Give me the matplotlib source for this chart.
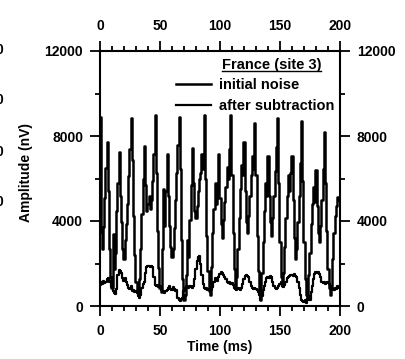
import numpy as np
import matplotlib.pyplot as plt
from matplotlib.lines import Line2D

plt.rcParams['font.family'] = ['Liberation Sans', 'DejaVu Sans']
plt.rcParams['font.weight'] = 'bold'
plt.rcParams['axes.labelweight'] = 'bold'

# signal sampled every 1 ms
time_ms = np.arange(0, 201)

initial_noise = [
    8900, 3500, 2700, 3700, 5100, 6500, 7700, 5400, 2700, 1350,
    850, 3400, 1750, 2500, 4450, 5800, 7250, 5200, 3950, 2700,
    2200, 3100, 3850, 4800, 6100, 7400, 8850, 6850, 4250, 2400,
    1150, 650, 550, 1250, 2700, 4350, 6000, 7550, 5700, 4450,
    4800, 5200, 4550, 5000, 5900, 7150, 9000, 6250, 3550, 1800,
    850, 650, 2700, 5500, 3750, 5400, 7150, 5200, 3750, 2800,
    2300, 2700, 3650, 5000, 6250, 7600, 8900, 6450, 3100, 1250,
    300, 500, 1450, 3100, 2300, 4050, 5700, 7450, 5800, 4450,
    4150, 4700, 5400, 6000, 6250, 7150, 6450, 9000, 6000, 3300,
    1650, 700, 500, 1850, 3450, 4550, 5800, 4800, 5600, 7150,
    5100, 3850, 3200, 4050, 4900, 5600, 6550, 6000, 7400, 9000,
    6150, 3450, 1750, 950, 1350, 2700, 4150, 5500, 6650, 6150,
    7700, 5400, 3950, 3450, 4250, 5200, 6150, 7050, 6450, 8600,
    6150, 3300, 1650, 600, 300, 1550, 3000, 4450, 5800, 5200,
    7050, 5200, 3950, 3300, 4150, 5200, 6350, 7500, 8850, 5800,
    3000, 1350, 950, 1550, 2800, 4150, 5200, 6150, 5400, 6250,
    7050, 5000, 3200, 2200, 2700, 3950, 5200, 6750, 8700, 5900,
    3000, 1250, 500, 400, 1450, 2500, 3850, 4800, 5600, 4900,
    6400, 4700, 3450, 3000, 3750, 5000, 6450, 8200, 5800, 3550,
    1750, 850, 500, 950, 2200, 3450, 4250, 4700, 5150, 5000,
    5100,
]

after_subtraction = [
    1000, 1150, 1050, 1200, 1100, 1150, 1250, 1300, 1150, 1200,
    900, 700, 600, 550, 800, 1450, 1700, 1650, 1550, 1300,
    1200, 1300, 1150, 1000, 850, 800, 950, 700, 750, 650,
    700, 600, 450, 400, 500, 850, 1050, 1150, 1550, 1850,
    1900, 1900, 1850, 1900, 1850, 1350, 1000, 950, 1000, 900,
    950, 750, 650, 700, 600, 700, 750, 850, 950, 800,
    750, 900, 800, 700, 750, 400, 300, 250, 350, 400,
    700, 850, 950, 900, 850, 950, 900, 850, 950, 1250,
    1750, 2100, 2300, 2350, 2000, 1450, 1050, 850, 800, 850,
    750, 800, 850, 750, 900, 1150, 1300, 1250, 1200, 1350,
    1500, 1600, 1550, 1450, 1350, 1250, 1150, 1100, 1150, 1050,
    1100, 1000, 850, 800, 750, 850, 800, 750, 850, 1050,
    1250, 1400, 1450, 1400, 1350, 1150, 950, 850, 800, 850,
    800, 750, 650, 500, 300, 450, 750, 950, 1150, 1300,
    1350, 1300, 1400, 1350, 1150, 950, 850, 800, 850, 950,
    1050, 1150, 950, 900, 1000, 1150, 1300, 1350, 1400, 1450,
    1450, 1400, 1500, 1400, 1350, 1150, 850, 500, 300, 250,
    200, 300, 150, 350, 450, 300, 650, 950, 1250, 1500,
    1600, 1550, 1600, 1500, 1350, 1150, 1100, 1150, 1050, 1100,
    1150, 1050, 850, 800, 850, 750, 850, 800, 950, 850,
    900,
]

x_major = [0, 50, 100, 150, 200]
y_major = [0, 4000, 8000, 12000]
y_minor = [2000, 6000, 10000]

fig = plt.figure(figsize=(4.06, 3.59), dpi=100)
ax = fig.add_axes([100 / 406, 53 / 359, 240 / 406, 255 / 359])

line_init, = ax.plot(time_ms, initial_noise, color='black', lw=1.8,
                     drawstyle='steps-mid', label='initial noise')
line_sub, = ax.plot(time_ms, after_subtraction, color='black', lw=1.6,
                    drawstyle='steps-mid', label='after subtraction')

ax.set_xlim(0, 200)
ax.set_ylim(0, 12000)
ax.set_xticks(x_major)
ax.set_xticks(np.arange(0, 201, 10), minor=True)
ax.set_yticks(y_major)
ax.set_yticks(y_minor, minor=True)

ax.tick_params(which='both', direction='out', top=True, right=True,
               labeltop=True, labelright=True, width=1.3, labelsize=10)
ax.tick_params(which='major', length=7.2)
ax.tick_params(which='minor', length=3.6)
ax.tick_params(axis='x', which='major', pad=6)
ax.tick_params(axis='y', which='major', pad=5)
for spine in ax.spines.values():
    spine.set_linewidth(1.5)

ax.set_xlabel('Time (ms)', fontsize=10, labelpad=1)
ax.set_ylabel('Amplitude (nV)', fontsize=10)
ax.yaxis.set_label_coords(-0.279, 0.522)

# legend block: underlined heading plus the two line keys
heading = ax.text(0.508, 0.945, 'France (site 3)', transform=ax.transAxes,
                  fontsize=10.5, va='center', ha='left')
ax.legend(handles=[line_init, line_sub], loc='upper left',
          bbox_to_anchor=(0.317, 0.893), frameon=False, fontsize=10.5,
          handlelength=2.4, handletextpad=0.55, borderpad=0,
          borderaxespad=0, labelspacing=0.45)

# clipped tick labels of the neighbouring panel at the left edge
for ypx in [50, 100, 152, 202]:
    fig.text(-0.011, 1 - ypx / 359, '0', fontsize=10, va='center', ha='left')

fig.canvas.draw()
bb = heading.get_window_extent().transformed(fig.transFigure.inverted())
fig.add_artist(Line2D([bb.x0, bb.x1], [bb.y0 + 0.002, bb.y0 + 0.002],
                      transform=fig.transFigure, color='black', lw=1.0))

fig.savefig('out.png', dpi=100)
